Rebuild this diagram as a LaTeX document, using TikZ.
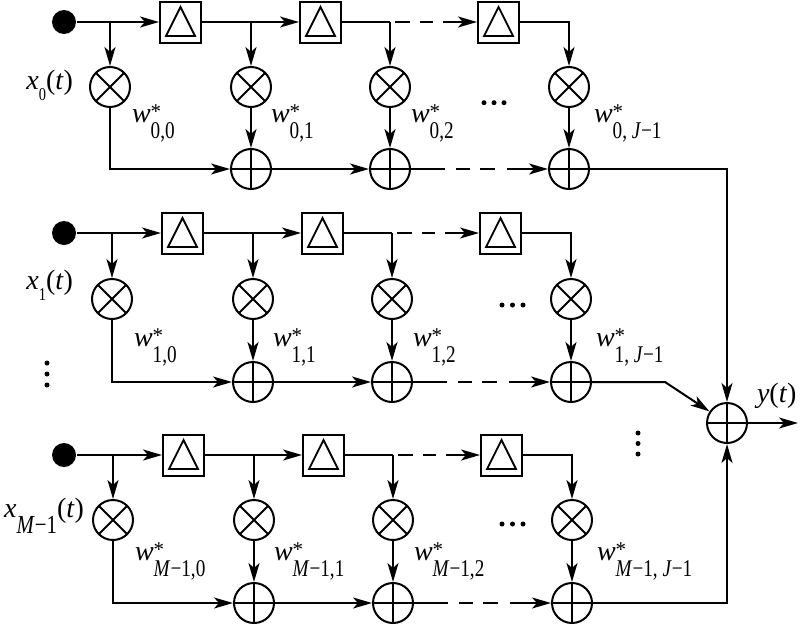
\documentclass[tikz,border=0pt]{standalone}
\usepackage{fontspec}
\usepackage{graphicx}
\setmainfont{Liberation Serif}
\usetikzlibrary{arrows.meta,calc}
\newcommand\Wlab[1]{{\itshape w}\rlap{\raisebox{4pt}{\fontsize{21}{22}\selectfont *}}\raisebox{-16pt}{\scalebox{0.8}[1]{\fontsize{24}{26}\selectfont #1}}}
\newcommand\Xlab[3]{{\itshape x}\raisebox{-#3}{\scalebox{0.8}[1]{\fontsize{#2}{#2}\selectfont #1}}(\textit{t})}
\begin{document}
\begin{tikzpicture}[x=1pt,y=-1pt,line width=2pt,
  arr/.style={-{Stealth[length=19pt,width=11pt,inset=5pt]}},
  dotin/.style={circle,fill,inner sep=0,minimum size=24pt},
  delay/.style={draw,minimum size=41pt,inner sep=0,
    path picture={\draw[line width=1.8pt] ($(path picture bounding box.center)+(0,-15)$) -- ++(14.5,29) -- ++(-29,0) -- cycle;}},
  mult/.style={circle,draw,minimum size=40pt,inner sep=0,
    path picture={\draw (path picture bounding box.north west)--(path picture bounding box.south east)
      (path picture bounding box.north east)--(path picture bounding box.south west);}},
  adder/.style={circle,draw,minimum size=40pt,inner sep=0,
    path picture={\draw (path picture bounding box.north)--(path picture bounding box.south)
      (path picture bounding box.east)--(path picture bounding box.west);}},
  lab/.style={inner sep=0,font=\fontsize{28}{32}\selectfont},
  sdot/.style={circle,fill,inner sep=0,minimum size=5pt},
  topdash/.style={dash pattern=on 0pt off 5pt on 15pt off 10pt on 13pt off 10pt on 40pt off 1pt},
  botdash/.style={dash pattern=on 34pt off 11pt on 14pt off 10pt on 15pt off 12pt on 60pt off 1pt}]
\useasboundingbox (0,0) rectangle (800,624);

\foreach \r/\dx/\yl/\ym/\ya/\wb/\pre in {0/0/22/87/169/122/0, 1/2/233/299/382/346/1, 2/3/455/520/603/560/{\textit{M}−1}}{
  \node[dotin] (d\r) at (64,\yl) {};
  \node[delay] (b\r1) at (180.5+\dx,\yl) {};
  \node[delay] (b\r2) at (320.5+\dx,\yl) {};
  \node[delay] (b\r3) at (498.5+\dx,\yl) {};
  \node[mult] (m\r0) at (110+\dx,\ym) {};
  \node[mult] (m\r1) at (251+\dx,\ym) {};
  \node[mult] (m\r2) at (390+\dx,\ym) {};
  \node[mult] (m\r3) at (569+\dx,\ym) {};
  \node[adder] (a\r1) at (251+\dx,\ya) {};
  \node[adder] (a\r2) at (390+\dx,\ya) {};
  \node[adder] (a\r3) at (569+\dx,\ya) {};
  \coordinate (t\r0) at (m\r0 |- d\r);
  \coordinate (t\r1) at (m\r1 |- d\r);
  \coordinate (t\r2) at (m\r2 |- d\r);
  \draw[arr] (d\r) -- (b\r1);
  \draw[arr] (t\r0) -- (m\r0);
  \draw[arr] (b\r1) -- (b\r2);
  \draw[arr] (t\r1) -- (m\r1);
  \draw (b\r2) -- (t\r2);
  \draw[arr,topdash] (t\r2) -- (b\r3);
  \draw[arr] (t\r2) -- (m\r2);
  \draw[arr] (b\r3) -| (m\r3);
  \draw[arr] (m\r0) |- (a\r1);
  \draw[arr] (m\r1) -- (a\r1);
  \draw[arr] (m\r2) -- (a\r2);
  \draw[arr] (m\r3) -- (a\r3);
  \draw[arr] (a\r1) -- (a\r2);
  \draw[arr,botdash] (a\r2) -- (a\r3);
  \foreach \c/\mx/\off in {0/110/21, 1/251/19, 2/390/20}{
    \node[lab,anchor=base west] (w\r\c) at (\mx+\dx+\off,\wb) {\Wlab{\pre,\c}};
  }
  \node[lab,anchor=base west] (w\r3) at (569+\dx+24,\wb) {\Wlab{\pre, \textit{J}−1}};
}

\node[lab,anchor=base east] (x0) at (74,89) {\Xlab{0}{18}{11pt}};
\node[lab,anchor=base east] (x1) at (74,289) {\Xlab{1}{18}{11pt}};
\node[lab,anchor=base east] (x2) at (85,517) {\Xlab{\textit{M}−1}{26}{16pt}};

\node[adder] (fin) at (727,423) {};
\coordinate (k) at ($(a13)+(94,0)$);
\coordinate (out) at (798,423);
\draw[arr] (a03) -| (fin);
\draw[arr] (a23) -| (fin);
\draw[arr] (a13) -- (k) -- (fin);
\draw[arr] (fin) -- (out);
\node[lab,anchor=base west] (yt) at (756,402) {\textit{y}(\textit{t})};

\foreach \i [count=\n] in {363,374,385} \node[sdot] (lv\n) at (47,\i) {};
\foreach \i [count=\n] in {433,443.5,454} \node[sdot] (rv\n) at (638,\i) {};
\foreach \i [count=\n] in {484,494,504} \node[sdot] (h0\n) at (\i,102.7) {};
\foreach \i [count=\n] in {502,512.5,523} \node[sdot] (h1\n) at (\i,305) {};
\foreach \i [count=\n] in {502,512.5,523} \node[sdot] (h2\n) at (\i,524) {};
\end{tikzpicture}
\end{document}
